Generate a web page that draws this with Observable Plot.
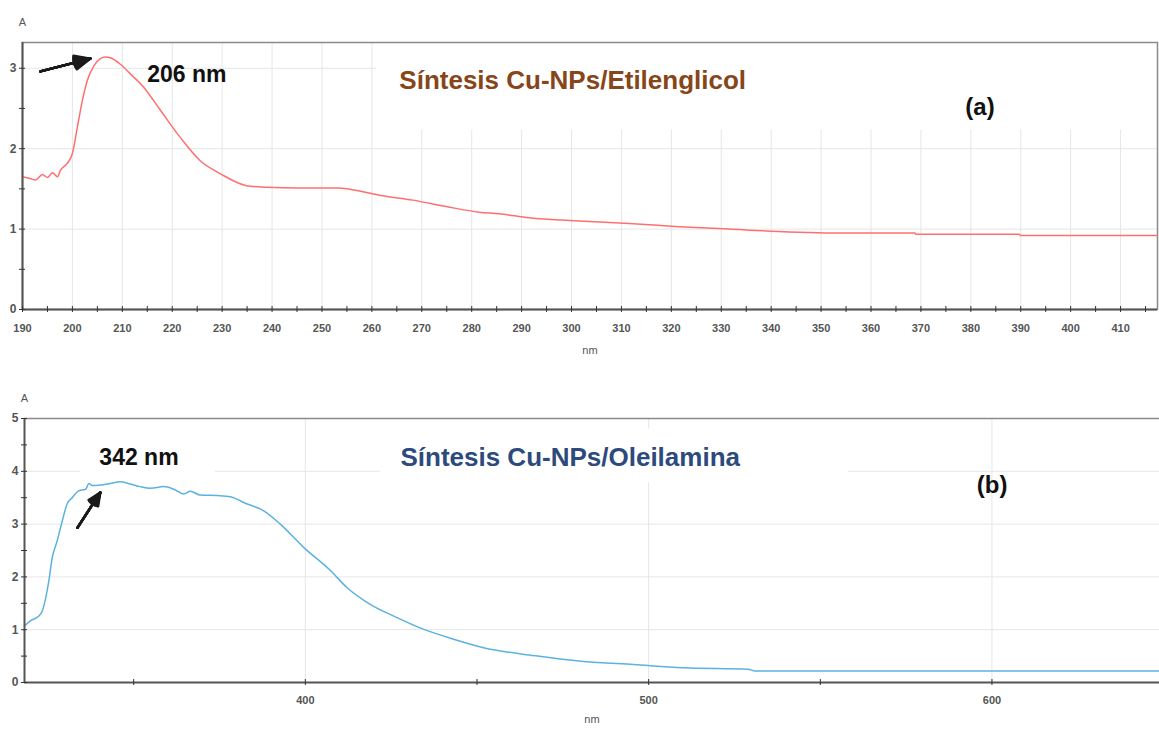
<!DOCTYPE html>
<html>
<head>
<meta charset="utf-8">
<script src="https://cdn.jsdelivr.net/npm/d3@7"></script>
<script src="https://cdn.jsdelivr.net/npm/@observablehq/plot@0.6"></script>
<style>
  html, body { margin: 0; padding: 0; background: #fff; }
  #wrap { position: relative; width: 1159px; height: 731px; overflow: hidden; }
  #wrap svg { position: absolute; left: 0; }
</style>
</head>
<body>
<div id="wrap"></div>
<script>
// ---- Panel (a): Síntesis Cu-NPs/Etilenglicol ----
const nmA = [190, 191.5, 192.6, 194, 195, 196, 197, 197.6, 199, 200, 201, 202, 203, 204.3, 205.6, 206.6, 207.6, 209.6, 211.6, 214.2, 217.6, 221.6, 225.6, 229.6, 234.9, 238.9, 245.5, 253.2, 257, 261.5, 268.2, 274.9, 281.5, 285.5, 291.5, 301.5, 311.5, 321.5, 331.5, 341.5, 355, 368.8, 369, 389.7, 390, 417.4];
const absA = [1.65, 1.63, 1.61, 1.68, 1.64, 1.70, 1.65, 1.73, 1.82, 1.94, 2.27, 2.60, 2.85, 3.03, 3.12, 3.14, 3.13, 3.05, 2.93, 2.77, 2.48, 2.14, 1.85, 1.69, 1.54, 1.52, 1.51, 1.51, 1.48, 1.42, 1.36, 1.28, 1.21, 1.19, 1.14, 1.10, 1.07, 1.03, 1.00, 0.97, 0.95, 0.95, 0.935, 0.935, 0.92, 0.92];
const xTicksA = d3.range(190, 418, 10);
const xMinorA = d3.range(195, 418, 10);
const yTicksA = [0, 1, 2, 3];
const yMinorA = [0.5, 1.5, 2.5];
const titleA = [{x: 265.5, y: 2.85, text: "Síntesis Cu-NPs/Etilenglicol"}];
const peakA = [{x: 215.0, y: 2.92, text: "206 nm"}];
const tagA = [{x: 378.9, y: 2.51, text: "(a)"}];
const arrowA = [{x1: 193.6, y1: 2.96, x2: 203.6, y2: 3.12}];
const boxA = [{x1: 260.9, x2: 417.4, y1: 2.23, y2: 3.32}];

// ---- Panel (b): Síntesis Cu-NPs/Oleilamina ----
const nmB = [318.2, 320, 322.4, 323.4, 324.3, 325.3, 326.3, 327.7, 329.2, 330.6, 332.1, 334, 336, 337, 337.9, 340.4, 343.2, 346.1, 349, 351.9, 354.9, 358.7, 361.7, 364.6, 366.5, 369.4, 374.3, 378.2, 382, 387.9, 392.7, 399.5, 407.3, 412.1, 418.9, 426.7, 434.4, 443.2, 451.9, 466.5, 481, 495.6, 510.1, 529, 531, 648.8];
const absB = [1.07, 1.17, 1.26, 1.36, 1.58, 1.93, 2.37, 2.68, 3.06, 3.38, 3.50, 3.63, 3.66, 3.77, 3.73, 3.74, 3.77, 3.80, 3.76, 3.71, 3.68, 3.71, 3.66, 3.57, 3.62, 3.55, 3.54, 3.52, 3.41, 3.25, 3.00, 2.56, 2.12, 1.80, 1.48, 1.23, 1.01, 0.82, 0.66, 0.51, 0.40, 0.34, 0.28, 0.25, 0.22, 0.22];
const xTicksB = [400, 500, 600];
const xMinorB = [350, 450, 550];
const yTicksB = [0, 1, 2, 3, 4, 5];
const yMinorB = [0.5, 1.5, 2.5, 3.5, 4.5];
const titleB = [{x: 427.7, y: 4.26, text: "Síntesis Cu-NPs/Oleilamina"}];
const peakB = [{x: 340.0, y: 4.26, text: "342 nm"}];
const tagB = [{x: 595.6, y: 3.73, text: "(b)"}];
const arrowB = [{x1: 333.6, y1: 2.93, x2: 340.3, y2: 3.60}];
const boxB = [{x1: 334.5, x2: 373.8, y1: 3.9, y2: 4.58}, {x1: 421.8, x2: 558.1, y1: 3.78, y2: 4.80}];

const dataA = nmA.map((nm, i) => ({nm, A: absA[i]}));
const dataB = nmB.map((nm, i) => ({nm, A: absB[i]}));

const FONT = "'Liberation Sans', Arial, sans-serif";
const GRID = "#e6e6e6";
const AXIS = "#555";
const LABEL = "#555";
const fmtInt = d3.format("d");

function arrowMarks(arrow) {
  return [48, 40, 32, 24, 16, 8].map((a) =>
    Plot.arrow(arrow, {x1: "x1", y1: "y1", x2: "x2", y2: "y2", stroke: "#1a1a1a", strokeWidth: 2.4, headLength: 14, headAngle: a})
  );
}

function panel({data, xDomain, yDomain, xTicks, xMinor, yTicks, yMinor, gridX, gridY, title, titleColor, peak, tag, arrow, boxes, lineColor, height, mt, mb, ml, mr, nmDy, tickPad, fullFrame}) {
  return Plot.plot({
    width: 1159, height,
    marginLeft: ml, marginRight: mr, marginTop: mt, marginBottom: mb,
    x: {domain: xDomain},
    y: {domain: yDomain},
    style: {fontFamily: FONT, fontSize: "11px", color: LABEL, background: "#fff"},
    marks: [
      Plot.gridX(gridX, {stroke: GRID, strokeOpacity: 1}),
      Plot.gridY(gridY, {stroke: GRID, strokeOpacity: 1}),
      Plot.rect(boxes, {x1: "x1", x2: "x2", y1: "y1", y2: "y2", fill: "#fff"}),
      fullFrame ? Plot.frame({stroke: "#8a8a8a", strokeWidth: 1.5}) : Plot.ruleY([yDomain[1]], {stroke: "#8a8a8a", strokeWidth: 1.5}),
      Plot.line(data, {x: "nm", y: "A", stroke: lineColor, strokeWidth: 1.5, curve: "monotone-x"}),
      Plot.ruleY([yDomain[0]], {stroke: AXIS, strokeWidth: 2}),
      Plot.ruleX([xDomain[0]], {stroke: AXIS, strokeWidth: 2}),
      Plot.axisX(xTicks, {tickSize: 3, tickPadding: tickPad, tickFormat: fmtInt, stroke: "#333", fill: LABEL, fontSize: 11, fontWeight: "bold", label: null}),
      Plot.axisX(xMinor, {tickSize: 3, text: null, stroke: "#333", label: null}),
      Plot.axisX(xTicks.concat(xMinor), {tickSize: -3, text: null, stroke: "#333", label: null}),
      Plot.axisY(yTicks, {tickSize: 3, tickPadding: 3, tickFormat: fmtInt, stroke: "#333", fill: LABEL, fontSize: 12, fontWeight: "bold", label: null}),
      Plot.axisY(yMinor, {tickSize: 3, text: null, stroke: "#333", label: null}),
      Plot.axisY(yTicks.concat(yMinor), {tickSize: -3, text: null, stroke: "#333", label: null}),
      Plot.text(["A"], {frameAnchor: "top-left", textAnchor: "middle", dy: -24, fontSize: 11, fill: LABEL}),
      Plot.text(["nm"], {frameAnchor: "bottom", dy: nmDy, fontSize: 11, fill: LABEL}),
      ...arrowMarks(arrow),
      Plot.text(title, {x: "x", y: "y", text: "text", textAnchor: "start", fontSize: 26, fontWeight: "bold", fill: titleColor}),
      Plot.text(peak, {x: "x", y: "y", text: "text", textAnchor: "start", fontSize: 23, fontWeight: "bold", fill: "#111"}),
      Plot.text(tag, {x: "x", y: "y", text: "text", textAnchor: "start", fontSize: 24, fontWeight: "bold", fill: "#111"})
    ]
  });
}

const svgA = panel({
  data: dataA, xDomain: [190, 417.4], yDomain: [0, 3.32],
  xTicks: xTicksA, xMinor: xMinorA, yTicks: yTicksA, yMinor: yMinorA,
  gridX: d3.range(200, 418, 10), gridY: [1, 2, 3],
  title: titleA, titleColor: "#87461a", peak: peakA, tag: tagA, arrow: arrowA, boxes: boxA,
  lineColor: "#ff6f6f", height: 365, mt: 42, mb: 56, ml: 22, mr: 2, nmDy: 44, tickPad: 12, fullFrame: true
});
svgA.style.top = "0px";

const svgB = panel({
  data: dataB, xDomain: [318.2, 648.8], yDomain: [0, 5],
  xTicks: xTicksB, xMinor: xMinorB, yTicks: yTicksB, yMinor: yMinorB,
  gridX: [400, 500, 600], gridY: [1, 2, 3, 4],
  title: titleB, titleColor: "#2d4a7c", peak: peakB, tag: tagB, arrow: arrowB, boxes: boxB,
  lineColor: "#5cb2de", height: 366, mt: 53, mb: 49, ml: 24, mr: 0, nmDy: 40, tickPad: 11, fullFrame: false
});
svgB.style.top = "365px";

const wrap = document.getElementById("wrap");
wrap.appendChild(svgA);
wrap.appendChild(svgB);
</script>
</body>
</html>
